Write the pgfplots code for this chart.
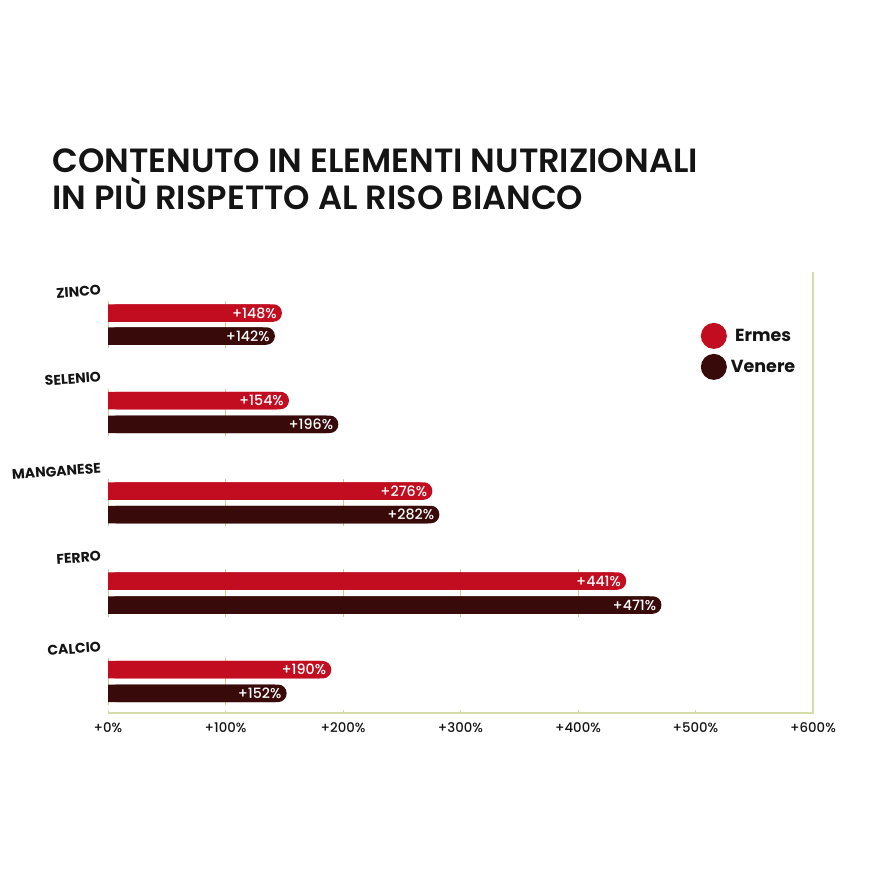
\documentclass[border=0pt]{standalone}
\usepackage{fontspec}
\setmainfont{Poppins}
\newfontfamily\pmedium{Poppins Medium}
\newfontfamily\psemi{Poppins SemiBold}
\usepackage{pgfplots}
\pgfplotsset{compat=1.18}
\definecolor{ermes}{RGB}{194,13,32}
\definecolor{venere}{RGB}{56,10,10}
\definecolor{axcol}{RGB}{214,219,170}
\definecolor{gridcol}{RGB}{212,200,150}
\definecolor{txt}{RGB}{20,20,20}

\pgfplotstableread{
val y
148 -313
154 -400.5
276 -491
441 -581
190 -669.7
}\ermesdata
\pgfplotstableread{
val y
142 -336
196 -424.3
282 -514.5
471 -605
152 -693.3
}\veneredata
\pgfplotstableread{
val y
138 -313
144 -400.5
266 -491
431 -581
180 -669.7
}\ermesbase
\pgfplotstableread{
val y
132 -336
186 -424.3
272 -514.5
461 -605
142 -693.3
}\venerebase

\begin{document}
\begin{tikzpicture}[x=1pt,y=1pt]
\path (0,0) rectangle (870,-870);
\node[anchor=base west, inner sep=0, font=\psemi\fontsize{33.6}{37}\selectfont, text=txt] at (52,-172) {CONTENUTO IN ELEMENTI NUTRIZIONALI};
\node[anchor=base west, inner sep=0, font=\psemi\fontsize{33.6}{37}\selectfont, text=txt] at (52,-209) {IN PIÙ RISPETTO AL RISO BIANCO};
\begin{axis}[
  set layers,
  /pgf/number format/assume math mode=true,
  at={(108pt,-713.3pt)}, anchor=south west,
  scale only axis, width=705pt, height=441.3pt,
  xmin=0, xmax=600, ymin=-713.3, ymax=-272,
  clip=false,
  axis line style={draw=none},
  xtick={0,100,...,600},
  xticklabel={+\pgfmathprintnumber{\tick}\%},
  xtick pos=bottom, tick align=inside,
  major tick length=3pt,
  xtick style={draw=axcol, line width=1pt},
  xticklabel style={anchor=base, inner sep=0pt, yshift=-19pt, font=\pmedium\fontsize{13.3}{14}\selectfont, text=txt},
  ytick={-290,-376.7,-468,-556,-646.7},
  yticklabels={ZINCO,SELENIO,MANGANESE,FERRO,CALCIO},
  ytick style={draw=none},
  yticklabel style={rotate=4, anchor=east, inner sep=0pt, xshift=-4pt, font=\bfseries\fontsize{14}{16}\selectfont, text=txt},
  xbar, bar shift=0pt, bar width=17.5pt,
  legend image code/.code={\fill (13pt,0pt) circle (13pt);},
  legend style={at={(axis cs:504.4,-322.7)}, anchor=north west, draw=none, fill=none, inner sep=0pt, row sep=5pt, column sep=2pt, font=\bfseries\fontsize{17.5}{18}\selectfont, text=txt, nodes={inner sep=2pt}},
]
\begin{pgfonlayer}{axis background}
\draw[gridcol, line width=1pt]
  (axis cs:0,-301) -- (axis cs:0,-348) (axis cs:100,-301) -- (axis cs:100,-348)
  (axis cs:0,-389) -- (axis cs:0,-436) (axis cs:100,-389) -- (axis cs:100,-436)
  (axis cs:0,-479) -- (axis cs:0,-526) (axis cs:100,-479) -- (axis cs:100,-526) (axis cs:200,-479) -- (axis cs:200,-526)
  (axis cs:0,-569) -- (axis cs:0,-617) (axis cs:100,-569) -- (axis cs:100,-617) (axis cs:200,-569) -- (axis cs:200,-617) (axis cs:300,-569) -- (axis cs:300,-617) (axis cs:400,-569) -- (axis cs:400,-617)
  (axis cs:0,-658) -- (axis cs:0,-705) (axis cs:100,-658) -- (axis cs:100,-705);
\end{pgfonlayer}
\draw[axcol, line width=1.8pt] (rel axis cs:0,0) -- (rel axis cs:1,0) -- (rel axis cs:1,1);
\addplot[fill=ermes, draw=none, forget plot] table[x=val, y=y] {\ermesbase};
\addplot[fill=venere, draw=none, forget plot] table[x=val, y=y] {\venerebase};
\addplot[fill=ermes, draw=none, rounded corners=8.5pt, point meta=x,
  nodes near coords={+\pgfmathprintnumber{\pgfplotspointmeta}\%},
  every node near coord/.append style={anchor=east, inner sep=0pt, xshift=-5pt, text=white, font=\pmedium\fontsize{14.2}{14}\selectfont}]
  table[x=val, y=y] {\ermesdata};
\addlegendentry{Ermes}
\addplot[fill=venere, draw=none, rounded corners=8.5pt, point meta=x,
  nodes near coords={+\pgfmathprintnumber{\pgfplotspointmeta}\%},
  every node near coord/.append style={anchor=east, inner sep=0pt, xshift=-5pt, text=white, font=\pmedium\fontsize{14.2}{14}\selectfont}]
  table[x=val, y=y] {\veneredata};
\addlegendentry{Venere}
\end{axis}
\end{tikzpicture}
\end{document}
